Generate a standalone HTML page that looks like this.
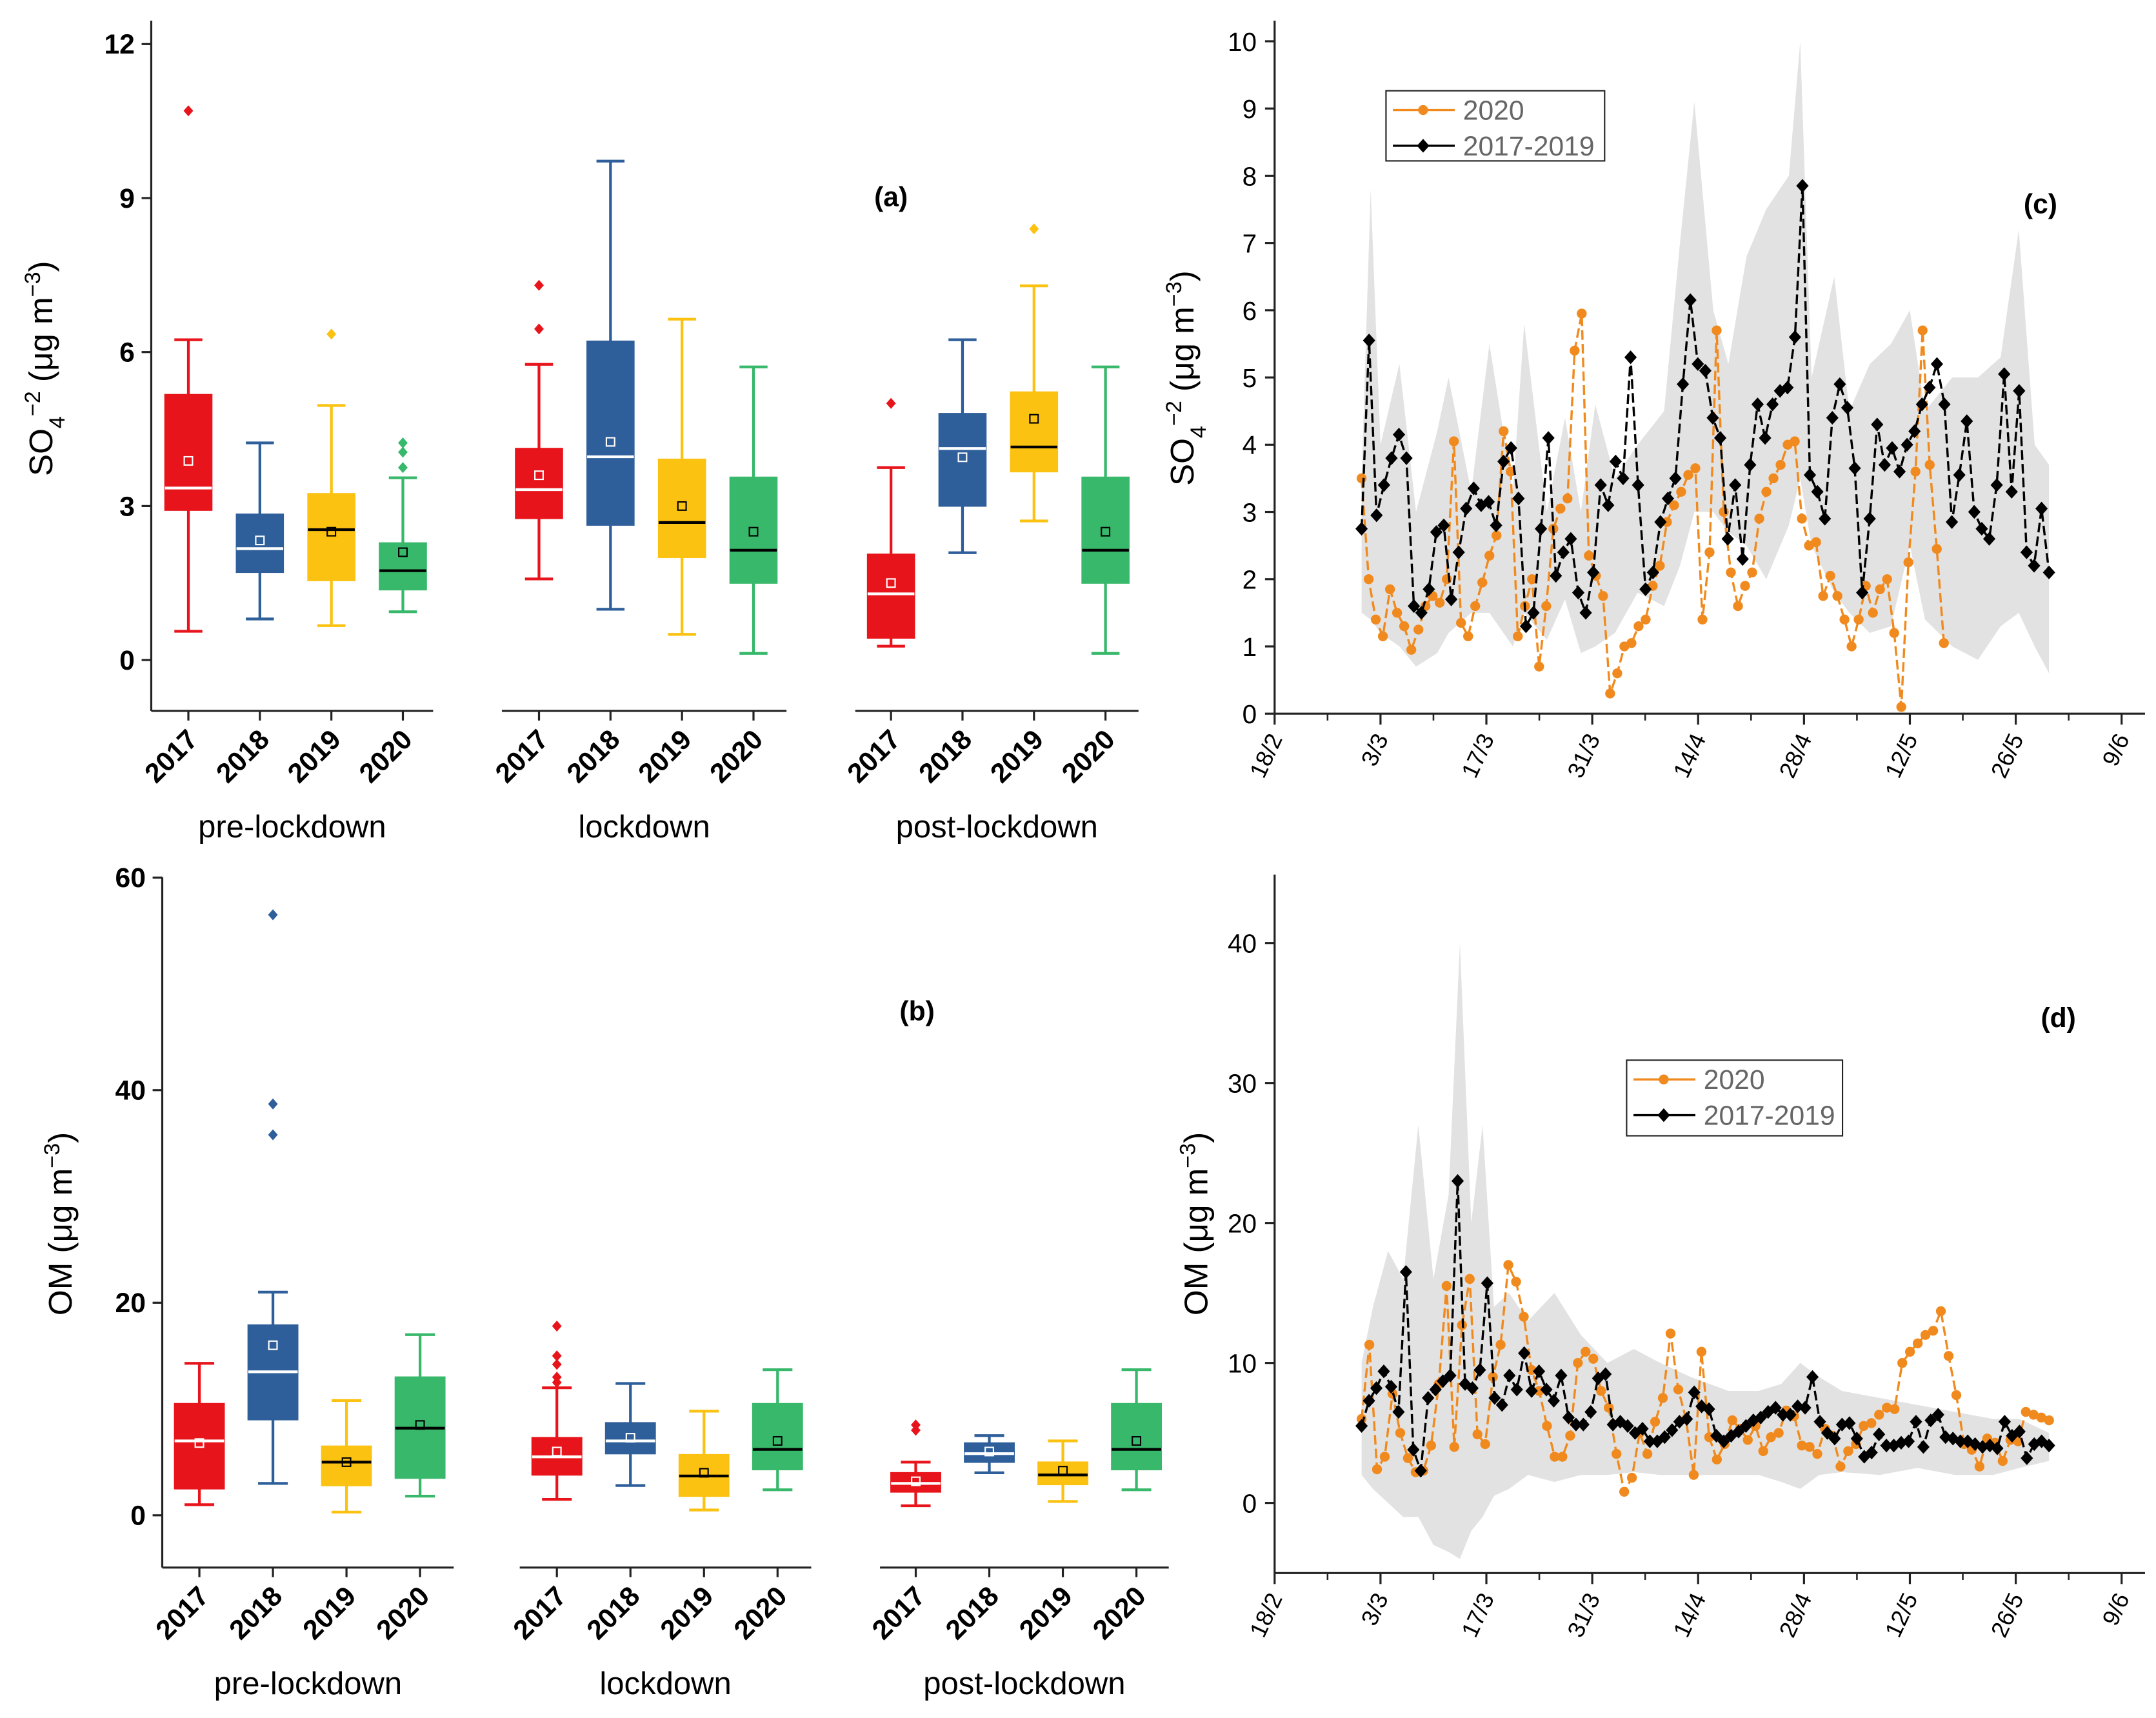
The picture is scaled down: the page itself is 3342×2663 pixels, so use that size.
<!DOCTYPE html>
<html><head><meta charset="utf-8"><style>
html,body{margin:0;padding:0;background:#fff}
svg{display:block}
text{font-family:"Liberation Sans",Arial,sans-serif}
</style></head><body>
<svg id="fig" width="3342" height="2663" viewBox="0 0 1568 1249.4" xmlns="http://www.w3.org/2000/svg"></svg>
<script>
// ---------- DATA ----------
const years = ['2017','2018','2019','2020'];
const periods = ['pre-lockdown','lockdown','post-lockdown'];
// [low, q1, median, q3, high, mean]
const so4Stats = [
 [[0.56,2.92,3.35,5.17,6.24,3.88],[0.8,1.71,2.17,2.84,4.23,2.33],[0.67,1.55,2.54,3.24,4.96,2.5],[0.94,1.37,1.74,2.28,3.55,2.1]],
 [[1.58,2.76,3.32,4.12,5.76,3.6],[0.99,2.63,3.96,6.21,9.72,4.25],[0.5,2.0,2.68,3.91,6.64,3.0],[0.13,1.5,2.14,3.56,5.71,2.5]],
 [[0.27,0.43,1.29,2.06,3.75,1.5],[2.09,3.0,4.12,4.8,6.24,3.95],[2.71,3.67,4.15,5.22,7.29,4.7],[0.13,1.5,2.14,3.56,5.71,2.5]]
];
const so4Outliers = [[[10.7],[],[6.35],[4.23,4.05,3.75]],[[7.3,6.45],[],[],[]],[[5.0],[],[8.4],[]]];
const omStats = [
 [[1.0,2.5,7.0,10.5,14.3,6.8],[3.0,9.0,13.5,17.9,21,16],[0.3,2.8,5.0,6.5,10.8,5.0],[1.8,3.5,8.2,13,17,8.5]],
 [[1.5,3.8,5.5,7.3,12,6],[2.8,5.8,7,8.7,12.4,7.3],[0.5,1.8,3.7,5.7,9.8,4],[2.4,4.3,6.2,10.5,13.7,7]],
 [[0.9,2.2,3,4,5,3.2],[4,5,5.8,6.8,7.5,6],[1.3,2.9,3.8,5,7,4.2],[2.4,4.3,6.2,10.5,13.7,7]]
];
const omOutliers = [[[],[56.5,38.7,35.8],[],[]],[[17.8,15,14.2,13,12.5],[],[],[]],[[8.5,8.0],[],[],[]]];

const dateTicks = ['18/2','3/3','17/3','31/3','14/4','28/4','12/5','26/5','9/6'];
const so4Hist = [2.75,5.55,2.95,3.4,3.8,4.15,3.8,1.6,1.5,1.85,2.7,2.8,1.7,2.4,3.05,3.35,3.1,3.15,2.8,3.75,3.95,3.2,1.3,1.5,2.75,4.1,2.05,2.4,2.6,1.8,1.5,2.1,3.4,3.1,3.75,3.5,5.3,3.4,1.85,2.1,2.85,3.2,3.5,4.9,6.15,5.2,5.1,4.4,4.1,2.6,3.4,2.3,3.7,4.6,4.1,4.6,4.8,4.85,5.6,7.85,3.55,3.3,2.9,4.4,4.9,4.55,3.65,1.8,2.9,4.3,3.7,3.95,3.6,4.0,4.2,4.6,4.85,5.2,4.6,2.85,3.55,4.35,3.0,2.75,2.6,3.4,5.05,3.3,4.8,2.4,2.2,3.05,2.1];
const so4_2020 = [3.5,2.0,1.4,1.15,1.85,1.5,1.3,0.95,1.25,1.6,1.75,1.65,2.0,4.05,1.35,1.15,1.6,1.95,2.35,2.65,4.2,3.6,1.15,1.6,2.0,0.7,1.6,2.75,3.05,3.2,5.4,5.95,2.35,2.05,1.75,0.3,0.6,1.0,1.05,1.3,1.4,1.9,2.2,2.85,3.1,3.3,3.55,3.65,1.4,2.4,5.7,3.0,2.1,1.6,1.9,2.1,2.9,3.3,3.5,3.7,4.0,4.05,2.9,2.5,2.55,1.75,2.05,1.75,1.4,1.0,1.4,1.9,1.5,1.85,2.0,1.2,0.1,2.25,3.6,5.7,3.7,2.45,1.05];
const so4BandDays = [11.5,12.7,14,16.5,18.7,21.5,23,26,28.4,31.5,33,36,38.4,40.5,42.4,45,48,51.5,53.6,55.5,58,60,62.4,65,68,69.5,71,74,76,78.7,81.5,84,86,89.6,93,96,98.4,100.5,102.4];
const so4BandHi = [3.5,7.8,4.0,5.2,3.0,4.2,5.0,3.3,5.5,3.3,5.8,3.0,4.4,3.0,4.6,3.5,4.0,4.5,7.0,9.1,6.0,5.2,6.8,7.5,8.0,10.0,5.0,6.5,4.5,5.2,5.5,6.0,4.5,5.0,5.0,5.3,7.2,4.0,3.7];
const so4BandLo = [1.5,1.4,1.2,1.0,0.7,0.9,1.2,1.5,1.5,1.0,1.5,1.1,1.7,0.9,1.0,1.2,1.8,1.6,2.2,3.0,3.0,2.7,2.5,2.0,2.8,3.5,2.5,1.8,1.5,1.2,1.3,2.5,1.4,1.0,0.8,1.3,1.5,1.0,0.6];
const omHist = [5.5,7.3,8.2,9.4,8.3,6.5,16.5,3.8,2.3,7.5,8.1,8.7,9.1,23,8.5,8.2,9.5,15.7,7.5,7.0,9.1,8.1,10.7,8.0,9.4,8.1,7.3,9.1,6.1,5.6,5.6,6.5,8.9,9.2,5.6,5.8,5.5,5.0,5.3,4.4,4.4,4.7,5.2,5.8,6.0,7.9,6.9,6.7,4.8,4.4,4.8,5.1,5.5,5.9,6.1,6.5,6.8,6.3,6.3,6.9,6.8,9.0,5.8,5.0,4.6,5.6,5.7,4.6,3.3,3.6,4.9,4.1,4.1,4.3,4.4,5.8,4.0,5.9,6.3,4.7,4.6,4.4,4.4,4.2,4.0,4.1,3.9,5.8,4.8,5.1,3.2,4.2,4.4,4.1];
const om_2020 = [6.0,11.3,2.4,3.3,7.8,5.0,3.2,2.2,2.3,4.1,8.5,15.5,4.0,12.7,16.0,4.9,4.2,9.0,11.3,17.0,15.8,13.3,9.5,8.0,5.5,3.3,3.3,4.8,10.0,10.8,10.3,8.0,6.8,3.5,0.8,1.8,5.0,3.5,5.8,7.5,12.1,8.1,6.0,2.0,10.8,4.7,3.1,4.2,5.9,5.3,4.5,5.5,3.7,4.7,5.0,6.6,6.2,4.1,4.0,3.5,5.3,4.8,2.6,3.7,4.2,5.5,5.7,6.3,6.8,6.7,10.0,10.8,11.4,12.0,12.3,13.7,10.5,7.7,4.2,3.8,2.6,4.6,4.3,3.0,4.5,4.4,6.5,6.3,6.1,5.9];
const omBandDays = [11.5,13,15,17,19,21,23,24.5,26,27.5,29,31,33.5,37,40.5,44,47.5,51,55,60,64,67,69.5,72,75,80,85,90,95,98.5,102.4];
const omBandHi = [10,14,18,16,27,16,22,40,20,27,14,15,13,15,12,10,11,10,9,8,8,8.5,10,9,8,7.5,7,6.5,6,6,5];
const omBandLo = [2,1,0,-1,-1,-3,-3.5,-4,-2,-1,0.5,1,2,1.5,2,2,2.2,2,2,2,2,1.5,1,2,2.2,2,2.5,2,2,2.5,3];

// ---------- DRAW ----------
const NS='http://www.w3.org/2000/svg';
const svg=document.getElementById('fig');
function el(tag,attrs,parent,txt){const e=document.createElementNS(NS,tag);for(const k in attrs)e.setAttribute(k,attrs[k]);if(txt!==undefined)e.textContent=txt;(parent||svg).appendChild(e);return e;}
const colors=['#e8141b','#2e5f9a','#fbc212','#38b86a'];
const medCol=['#fff','#fff','#000','#000'];

function boxPanel(cfg){
  const g=el('g',{});
  
  
  const y=v=>cfg.y0-(v-cfg.vmin)*cfg.ppu;
  const ya=el('line',{x1:cfg.ax,y1:cfg.top,x2:cfg.ax,y2:cfg.bottom,stroke:'#222','stroke-width':1.5},g);
  
  cfg.ticks.forEach(t=>{
    el('line',{x1:cfg.ax-7,y1:y(t),x2:cfg.ax,y2:y(t),stroke:'#222','stroke-width':1.5},g);
    const tl=el('text',{x:cfg.ax-12,y:y(t)+7,'text-anchor':'end','font-size':20,'font-weight':'bold'},g,String(t));
    
  });
  const yl=el('text',{transform:`translate(${cfg.ylx},${cfg.yly}) rotate(-90)`,'text-anchor':'middle','font-size':24},g);
  yl.innerHTML=cfg.ylabel;
  
  periods.forEach((p,pi)=>{
    const seg=cfg.segs[pi];
    const xl=el('line',{x1:seg[0],y1:cfg.bottom,x2:seg[1],y2:cfg.bottom,stroke:'#222','stroke-width':1.5},g);
    
    years.forEach((yr,yi)=>{
      const cx=cfg.cx0[pi]+yi*cfg.dx;
      const s=cfg.stats[pi][yi];
      const c=colors[yi];
      const bg=el('g',{},g);
      
      const w=cfg.bw;
      el('line',{x1:cx,y1:y(s[0]),x2:cx,y2:y(s[4]),stroke:c,'stroke-width':2},bg);
      el('line',{x1:cx-w*0.3,y1:y(s[0]),x2:cx+w*0.3,y2:y(s[0]),stroke:c,'stroke-width':2},bg);
      el('line',{x1:cx-w*0.3,y1:y(s[4]),x2:cx+w*0.3,y2:y(s[4]),stroke:c,'stroke-width':2},bg);
      el('rect',{x:cx-w/2,y:y(s[3]),width:w,height:y(s[1])-y(s[3]),fill:c,stroke:c},bg);
      el('line',{x1:cx-w/2,y1:y(s[2]),x2:cx+w/2,y2:y(s[2]),stroke:medCol[yi],'stroke-width':2},bg);
      el('rect',{x:cx-3,y:y(s[5])-3,width:6,height:6,fill:'none',stroke:medCol[yi],'stroke-width':1},bg);
      cfg.out[pi][yi].forEach(o=>{
        const d=el('path',{d:`M${cx},${y(o)-4}L${cx+3.5},${y(o)}L${cx},${y(o)+4}L${cx-3.5},${y(o)}Z`,fill:c},bg);
        
      });
      el('line',{x1:cx,y1:cfg.bottom,x2:cx,y2:cfg.bottom+7,stroke:'#222','stroke-width':1.5},g);
      const t=el('text',{transform:`translate(${cx+8},${cfg.bottom+22}) rotate(-45)`,'text-anchor':'end','font-size':20,'font-weight':'bold'},g,yr);
      
    });
    const pl=el('text',{x:(seg[0]+seg[1])/2+cfg.plOff,y:cfg.bottom+92,'text-anchor':'middle','font-size':23},g,p);
    
  });
  const lab=el('text',{x:cfg.labx,y:cfg.laby,'font-size':20,'font-weight':'bold','text-anchor':'middle'},g,cfg.letter);
  
}

boxPanel({name:'panel-a-so4-boxplot',ax:110,top:15,bottom:517,y0:480,vmin:0,ppu:37.33,ticks:[0,3,6,9,12],
 ylx:38,yly:268,ylabel:'SO<tspan baseline-shift="sub" font-size="16">4</tspan><tspan baseline-shift="super" font-size="16">−2</tspan> (μg m<tspan baseline-shift="super" font-size="16">−3</tspan>)',
 segs:[[110,315],[365,572],[622,828]],cx0:[137,392,648],dx:52,bw:34,stats:so4Stats,out:so4Outliers,plOff:0,labx:648,laby:150,letter:'(a)'});
boxPanel({name:'panel-b-om-boxplot',ax:118,top:638,bottom:1140,y0:1102,vmin:0,ppu:7.73,ticks:[0,20,40,60],
 ylx:52,yly:890,ylabel:'OM (μg m<tspan baseline-shift="super" font-size="16">−3</tspan>)',
 segs:[[118,330],[378,590],[640,850]],cx0:[145,405,666],dx:53.5,bw:36,stats:omStats,out:omOutliers,plOff:0,labx:667,laby:742,letter:'(b)'});

function tsPanel(cfg){
  const g=el('g',{});
  
  const X=d=>927+d*5.5;
  const Y=v=>cfg.y0-v*cfg.ppu;
  const dStart=11.5,dEnd=102.4;
  let pts=cfg.hi.map((v,i)=>X(cfg.bandDays[i])+','+Y(v));
  pts=pts.concat(cfg.lo.map((v,i)=>X(cfg.bandDays[i])+','+Y(v)).reverse());
  const band=el('polygon',{points:pts.join(' '),fill:'#e2e2e2',stroke:'none'},g);
  
  el('line',{x1:927,y1:cfg.top,x2:927,y2:cfg.bottom,stroke:'#222','stroke-width':1.5},g);
  el('line',{x1:927,y1:cfg.bottom,x2:1560,y2:cfg.bottom,stroke:'#222','stroke-width':1.5},g);
  cfg.ticks.forEach(t=>{
    el('line',{x1:920,y1:Y(t),x2:927,y2:Y(t),stroke:'#222','stroke-width':1.5},g);
    const tl=el('text',{x:914,y:Y(t)+7,'text-anchor':'end','font-size':19},g,String(t));
    
  });
  dateTicks.forEach((d,i)=>{
    const x=927+i*77;
    el('line',{x1:x,y1:cfg.bottom,x2:x,y2:cfg.bottom+8,stroke:'#222','stroke-width':1.5},g);
    el('line',{x1:x+38.5,y1:cfg.bottom,x2:x+38.5,y2:cfg.bottom+5,stroke:'#222','stroke-width':1.2},g);
    const t=el('text',{transform:`translate(${x+6},${cfg.bottom+18}) rotate(-65)`,'text-anchor':'end','font-size':17},g,d);
    
  });
  const yl=el('text',{transform:`translate(${cfg.ylx},${cfg.yly}) rotate(-90)`,'text-anchor':'middle','font-size':24},g);
  yl.innerHTML=cfg.ylabel;
  function series(vals,end,color,marker,nm){
    const sg=el('g',{},g);
    
    const st=(end-dStart)/(vals.length-1);
    const p=vals.map((v,i)=>[X(dStart+i*st),Y(v)]);
    el('polyline',{points:p.map(q=>q.join(',')).join(' '),fill:'none',stroke:color,'stroke-width':1.6,'stroke-dasharray':'7,3'},sg);
    p.forEach(q=>{
      if(marker==='c') el('circle',{cx:q[0],cy:q[1],r:3.6,fill:color},sg);
      else el('path',{d:`M${q[0]},${q[1]-5}L${q[0]+4.5},${q[1]}L${q[0]},${q[1]+5}L${q[0]-4.5},${q[1]}Z`,fill:color},sg);
    });
  }
  series(cfg.s2020,cfg.end2020,'#f08a1e','c','series-2020');
  series(cfg.hist,dEnd,'#000','d','series-2017-2019');
  const lg=el('g',{},g);
  
  const [lx,ly,lw,lh]=cfg.leg;
  el('rect',{x:lx,y:ly,width:lw,height:lh,fill:'#fff',stroke:'#222','stroke-width':1},lg);
  el('line',{x1:lx+5,y1:ly+14,x2:lx+50,y2:ly+14,stroke:'#f08a1e','stroke-width':1.6},lg);
  el('circle',{cx:lx+27,cy:ly+14,r:3.6,fill:'#f08a1e'},lg);
  el('text',{x:lx+56,y:ly+21,'font-size':20,fill:'#666'},lg,'2020');
  el('line',{x1:lx+5,y1:ly+40,x2:lx+50,y2:ly+40,stroke:'#000','stroke-width':1.6},lg);
  el('path',{d:`M${lx+27},${ly+35}L${lx+31.5},${ly+40}L${lx+27},${ly+45}L${lx+22.5},${ly+40}Z`,fill:'#000'},lg);
  el('text',{x:lx+56,y:ly+47,'font-size':20,fill:'#666'},lg,'2017-2019');
  const lab=el('text',{x:cfg.labx,y:cfg.laby,'font-size':20,'font-weight':'bold','text-anchor':'middle'},g,cfg.letter);
  
}
tsPanel({name:'panel-c-so4-timeseries',top:15,bottom:519,y0:519,ppu:48.9,ticks:[0,1,2,3,4,5,6,7,8,9,10],
 bandDays:so4BandDays,hi:so4BandHi,lo:so4BandLo,hist:so4Hist,s2020:so4_2020,end2020:88.5,leg:[1008,66,159,51],labx:1484,laby:155,letter:'(c)',
 ylx:868,yly:275,ylabel:'SO<tspan baseline-shift="sub" font-size="16">4</tspan><tspan baseline-shift="super" font-size="16">−2</tspan> (μg m<tspan baseline-shift="super" font-size="16">−3</tspan>)'});
tsPanel({name:'panel-d-om-timeseries',top:636,bottom:1144,y0:1093,ppu:10.18,ticks:[0,10,20,30,40],
 bandDays:omBandDays,hi:omBandHi,lo:omBandLo,hist:omHist,s2020:om_2020,end2020:102.4,leg:[1183,771,157,55],labx:1497,laby:747,letter:'(d)',
 ylx:878,yly:890,ylabel:'OM (μg m<tspan baseline-shift="super" font-size="16">−3</tspan>)'});
</script>
</body></html>
